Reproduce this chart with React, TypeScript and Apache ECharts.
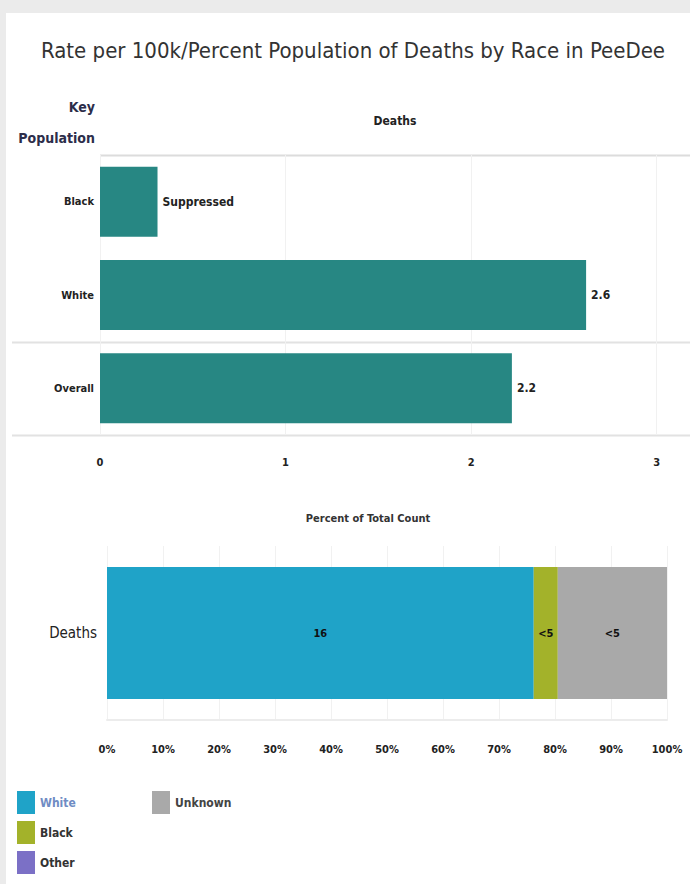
import React, { useEffect, useRef } from "react";
import * as echarts from "echarts";

const title = "Rate per 100k/Percent Population of Deaths by Race in PeeDee";
const rateCategories = ["Black", "White", "Overall"];
const rateValues = [0.31, 2.62, 2.22];
const rateLabels = ["Suppressed", "2.6", "2.2"];
const rateTicks = [0, 1, 2, 3];

const shareCategory = ["Deaths"];
const shareSeries = ["White", "Black", "Other", "Unknown"];
const shareValues = [76.2, 4.3, 0, 19.5];
const shareLabels = ["16", "<5", "", "<5"];
const shareColors = ["#1fa3c8", "#a3b22a", "#7b70c6", "#a9a9a9"];
const percentTicks = [0, 10, 20, 30, 40, 50, 60, 70, 80, 90, 100];

const FONT = "'Liberation Sans Narrow', 'DejaVu Sans Condensed', 'Open Sans', sans-serif";

export default function App() {
  const ref = useRef<HTMLDivElement>(null);
  useEffect(() => {
    const chart = echarts.init(ref.current!, null, { renderer: "svg" });
    const option: any = {
      animation: false,
      backgroundColor: "#ebebeb",
      textStyle: { fontFamily: FONT },
      graphic: [
        { type: "rect", shape: { x: 6, y: 13, width: 690, height: 880 }, style: { fill: "#ffffff" }, silent: true, z: -10 },
        { type: "text", x: 353, y: 50, style: { text: title, font: `22px ${FONT}`, fill: "#333333", align: "center", verticalAlign: "middle" } },
        { type: "text", x: 95, y: 107, style: { text: "Key", font: `bold 14px ${FONT}`, fill: "#2c2d4a", align: "right", verticalAlign: "middle" } },
        { type: "text", x: 95, y: 138, style: { text: "Population", font: `bold 14px ${FONT}`, fill: "#2c2d4a", align: "right", verticalAlign: "middle" } },
        { type: "text", x: 395, y: 121, style: { text: "Deaths", font: `bold 12px ${FONT}`, fill: "#222222", align: "center", verticalAlign: "middle" } },
        { type: "line", shape: { x1: 100, y1: 155.5, x2: 690, y2: 155.5 }, style: { stroke: "#dcdcdc", lineWidth: 2 } },
        { type: "line", shape: { x1: 12, y1: 342.5, x2: 690, y2: 342.5 }, style: { stroke: "#e2e2e2", lineWidth: 2 } },
        { type: "line", shape: { x1: 12, y1: 435.5, x2: 690, y2: 435.5 }, style: { stroke: "#e2e2e2", lineWidth: 2 } },
        { type: "text", x: 368, y: 518, style: { text: "Percent of Total Count", font: `bold 11px ${FONT}`, fill: "#333333", align: "center", verticalAlign: "middle" } },
      ],
      grid: [
        { left: 100, top: 155, width: 590, height: 280 },
        { left: 107, top: 546, width: 560, height: 174 },
      ],
      xAxis: [
        {
          gridIndex: 0, type: "value", min: 0, max: 3.18, interval: 1,
          axisLine: { show: false }, axisTick: { show: false },
          axisLabel: {
            margin: 22, color: "#222", fontWeight: "bold", fontSize: 11, showMaxLabel: false,
            formatter: (v: number) => (rateTicks.includes(v) ? String(v) : ""),
          },
          splitLine: { show: true, lineStyle: { color: "#f1f1f1", width: 1 } },
        },
        {
          gridIndex: 1, type: "value", min: 0, max: 100, interval: 10,
          axisLine: { show: true, lineStyle: { color: "#ececec", width: 2 } },
          axisTick: { show: false },
          axisLabel: {
            margin: 24, color: "#222", fontWeight: "bold", fontSize: 11,
            formatter: (v: number) => (percentTicks.includes(v) ? `${v}%` : ""),
          },
          splitLine: { show: true, lineStyle: { color: "#f1f1f1", width: 1 } },
        },
      ],
      yAxis: [
        {
          gridIndex: 0, type: "category", data: rateCategories, inverse: true,
          axisLine: { show: false }, axisTick: { show: false },
          axisLabel: { margin: 6, color: "#222", fontWeight: "bold", fontSize: 11 },
        },
        {
          gridIndex: 1, type: "category", data: shareCategory,
          axisLine: { show: false }, axisTick: { show: false },
          axisLabel: { margin: 10, color: "#222", fontSize: 15 },
        },
      ],
      legend: [
        {
          data: shareSeries.filter((s) => s !== "Unknown").map((s) => ({ name: s, textStyle: { color: s === "White" ? "#6f8cc4" : "#333" } })),
          orient: "vertical", left: 12, top: 786, itemWidth: 18, itemHeight: 23, itemGap: 7,
          icon: "rect", selectedMode: false, textStyle: { fontSize: 12, fontWeight: "bold", fontFamily: FONT, color: "#333" },
        },
        {
          data: ["Unknown"], orient: "vertical", left: 147, top: 786, itemWidth: 18, itemHeight: 23,
          icon: "rect", selectedMode: false, textStyle: { fontSize: 12, fontWeight: "bold", fontFamily: FONT, color: "#444" },
        },
      ],
      series: [
        {
          type: "bar", xAxisIndex: 0, yAxisIndex: 0, data: rateValues, barWidth: 70,
          itemStyle: { color: "#278783" },
          label: {
            show: true, position: "right", distance: 5, color: "#222", fontWeight: "bold", fontSize: 12,
            formatter: (p: any) => rateLabels[p.dataIndex],
          },
        },
        ...shareSeries.map((name, i) => ({
          name, type: "bar", stack: "share", xAxisIndex: 1, yAxisIndex: 1,
          data: [shareValues[i]], barWidth: 132,
          itemStyle: { color: shareColors[i] },
          label: {
            show: shareLabels[i] !== "", position: "inside", color: "#111", fontWeight: "bold", fontSize: 11,
            formatter: () => shareLabels[i],
          },
        })),
      ],
    };
    chart.setOption(option);
    return () => chart.dispose();
  }, []);
  return <div ref={ref} style={{ position: "fixed", left: 0, top: 0, width: 690, height: 884 }} />;
}
